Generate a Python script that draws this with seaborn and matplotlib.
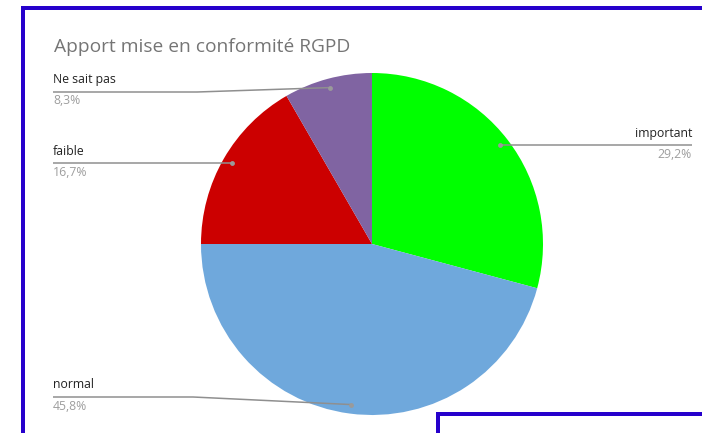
import numpy as np
import matplotlib
matplotlib.use("Agg")
import matplotlib.pyplot as plt
import seaborn as sns

# -----------------------------
# Data
# -----------------------------
categories = ['important', 'normal', 'faible', 'Ne sait pas']
counts = [7, 11, 4, 2]
pct_labels = ['29,2%', '45,8%', '16,7%', '8,3%']
colors = ['#00ff00', '#6fa8dc', '#cc0000', '#8064a2']
title = 'Apport mise en conformité RGPD'

# -----------------------------
# Style
# -----------------------------
sns.set_theme(style='white')
plt.rcParams['font.family'] = ['Open Sans', 'DejaVu Sans']

W, H = 702, 433
fig = plt.figure(figsize=(W / 100, H / 100), dpi=100)
ax = fig.add_axes([0, 0, 1, 1])

center = (372, 244)
radius = 171
wedges, _ = ax.pie(counts, colors=colors, startangle=270, counterclock=True,
                   center=center, radius=radius, frame=True,
                   wedgeprops=dict(linewidth=0))

ax.set_xlim(0, W)
ax.set_ylim(H, 0)
ax.set_aspect('equal')
ax.axis('off')

# title
ax.text(54, 52.5, title, fontsize=13.8, color='#757575', va='baseline', ha='left')

# leader lines: (line y, side, bend x)
leaders = {
    'important': (None, 'right', None),
    'normal': (397, 'left', 193),
    'faible': (None, 'left', None),
    'Ne sait pas': (92, 'left', 197),
}
line_col = '#8f8f8f'
for w, name, pct in zip(wedges, categories, pct_labels):
    mid = np.deg2rad((w.theta1 + w.theta2) / 2)
    dx = center[0] + 0.947 * radius * np.cos(mid)
    dy = center[1] + 0.947 * radius * np.sin(mid)
    ly, side, bend = leaders[name]
    if ly is None:
        ly = dy
    if side == 'left':
        xs = [53, bend, dx] if bend else [53, dx]
        ys = [ly, ly, dy] if bend else [ly, dy]
        tx, ha = 53, 'left'
    else:
        xs = [dx, 692]
        ys = [dy, ly]
        tx, ha = 692, 'right'
    ax.plot(xs, ys, color=line_col, lw=1.1, solid_capstyle='butt')
    ax.plot([dx], [dy], 'o', color='#9a9a9a', ms=3.5, mec='none')
    ax.text(tx, ly - 8.5, name, fontsize=8.8, color='#222222', ha=ha, va='baseline')
    ax.text(tx, ly + 12.5, pct, fontsize=8.8, color='#9e9e9e', ha=ha, va='baseline')

# blue frames
frame_col = '#2600cc'
lw = 4 * 0.72
ax.plot([22.5, 22.5, W + 5], [H + 5, 8, 8], color=frame_col, lw=lw,
        solid_joinstyle='miter', clip_on=False)
ax.plot([438, 438, W + 5], [H + 5, 414, 414], color=frame_col, lw=lw,
        solid_joinstyle='miter', clip_on=False)

fig.savefig('out.png', dpi=100)
